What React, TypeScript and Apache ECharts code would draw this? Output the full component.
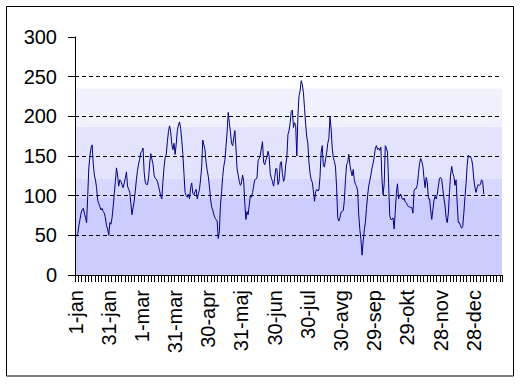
import React, { useEffect, useRef } from 'react';
import * as echarts from 'echarts';

// Daily values (day 0 = 1-jan)
const valuesJanFeb = [48, 50, 52, 62, 70, 78, 82, 84, 78, 72, 66, 100, 135, 150, 160, 164, 140, 126, 120, 110, 94, 90, 86, 82, 84, 80, 78, 72, 62, 58, 50, 66, 64, 72, 86, 102, 118, 135, 126, 112, 120, 118, 114, 110, 116, 122, 130, 112, 108, 104, 90, 76, 85, 93, 106, 120, 132, 140, 146, 154];
const valuesMarApr = [156, 160, 130, 117, 114, 114, 122, 140, 153, 146, 140, 126, 122, 121, 118, 112, 106, 99, 96, 118, 136, 148, 152, 168, 181, 188, 180, 165, 158, 166, 152, 165, 182, 189, 193, 185, 170, 152, 128, 104, 100, 98, 102, 96, 110, 116, 103, 101, 105, 108, 96, 102, 108, 120, 136, 170, 164, 158, 142, 132];
const valuesMayJun = [124, 112, 96, 86, 82, 76, 72, 70, 68, 46, 55, 88, 105, 124, 137, 145, 162, 180, 205, 192, 180, 166, 163, 173, 182, 160, 134, 126, 118, 113, 116, 126, 118, 90, 70, 80, 76, 88, 100, 98, 104, 112, 120, 121, 122, 144, 147, 151, 160, 168, 142, 139, 145, 149, 156, 150, 128, 122, 118, 112];
const valuesJulAug = [122, 134, 134, 114, 118, 140, 143, 128, 118, 122, 139, 148, 177, 182, 192, 206, 208, 186, 192, 188, 150, 200, 226, 232, 245, 240, 230, 210, 190, 174, 166, 142, 128, 120, 117, 106, 93, 105, 108, 106, 107, 124, 155, 163, 138, 136, 146, 154, 166, 172, 200, 185, 160, 148, 143, 136, 110, 72, 68, 72];
const valuesSepOct = [79, 80, 81, 94, 120, 139, 142, 152, 139, 131, 125, 133, 120, 114, 112, 106, 76, 57, 45, 25, 42, 57, 66, 84, 100, 112, 119, 126, 135, 141, 149, 160, 163, 158, 160, 157, 161, 120, 101, 115, 163, 160, 155, 115, 75, 70, 70, 72, 58, 80, 103, 115, 96, 101, 102, 97, 95, 97, 92, 91];
const valuesNovDec = [88, 86, 86, 85, 85, 78, 106, 109, 109, 114, 128, 141, 147, 143, 137, 122, 110, 123, 116, 96, 96, 82, 70, 82, 94, 99, 96, 102, 112, 122, 123, 120, 108, 97, 87, 72, 66, 78, 104, 126, 137, 128, 124, 113, 120, 90, 66, 66, 62, 59, 61, 78, 98, 115, 138, 151, 149, 149, 146, 138, 121, 111, 104, 110, 114, 113, 114, 120, 118, 102];

// Tick labels shown on the category axis, one every 30 categories
const tickLabels = ['1-jan', '31-jan', '1-mar', '31-mar', '30-apr', '31-maj', '30-jun', '30-jul', '30-avg', '29-sep', '29-okt', '28-nov', '28-dec'];
const labelEvery = 30;
const categoryCount = 386;

const yMin = 0;
const yMax = 300;
const yStep = 50;

// Background bands (value ranges) and their colours
const bandEdges = [0, 97, 121, 187, 235];
const bandColors = ['#CCCCFF', '#D7D7FF', '#E3E3FE', '#F1F1FE'];

const values = [...valuesJanFeb, ...valuesMarApr, ...valuesMayJun, ...valuesJulAug, ...valuesSepOct, ...valuesNovDec];

function buildCategories(): string[] {
  const out: string[] = [];
  for (let i = 0; i < categoryCount; i++) {
    const k = i / labelEvery;
    out.push(i % labelEvery === 0 && k < tickLabels.length ? tickLabels[k] : `d${i}`);
  }
  return out;
}

const FONT = 'Liberation Sans, Arial, sans-serif';

export default function App() {
  const ref = useRef<HTMLDivElement>(null);
  useEffect(() => {
    if (!ref.current) return;
    const chart = echarts.init(ref.current, undefined, { renderer: 'svg' });
    const categories = buildCategories();
    const bands = bandColors.map((c, i) => [
      { yAxis: bandEdges[i], itemStyle: { color: c, opacity: 1, borderWidth: 0 } },
      { yAxis: bandEdges[i + 1] },
    ]);
    chart.setOption({
      animation: false,
      backgroundColor: '#ffffff',
      grid: { left: 75, right: 26, top: 37, bottom: 109, containLabel: false },
      xAxis: {
        type: 'category',
        data: categories,
        boundaryGap: true,
        z: 2,
        axisLine: { show: true, lineStyle: { color: '#000', width: 1 } },
        axisTick: { show: true, interval: 2, length: 7, lineStyle: { color: '#000', width: 1 } },
        axisLabel: {
          interval: (index: number) => index % labelEvery === 0 && index / labelEvery < tickLabels.length,
          rotate: 90,
          margin: 15,
          color: '#000',
          fontSize: 20,
          fontFamily: FONT,
        },
        splitLine: { show: false },
      },
      yAxis: {
        type: 'value',
        min: yMin,
        max: yMax,
        interval: yStep,
        z: 2,
        axisLine: { show: true, lineStyle: { color: '#000', width: 1 } },
        axisTick: { show: true, length: 7, lineStyle: { color: '#000', width: 1 } },
        axisLabel: { margin: 18, color: '#000', fontSize: 20, fontFamily: FONT },
        splitLine: {
          show: true,
          showMaxLine: false,
          lineStyle: { color: '#000', width: 1, type: [4, 3] },
        },
      },
      series: [
        {
          type: 'line',
          data: [],
          z: 1,
          silent: true,
          markArea: {
            silent: true,
            z: 1,
            data: bands,
          },
        },
        {
          type: 'line',
          data: values,
          z: 3,
          showSymbol: false,
          symbol: 'none',
          lineStyle: { color: '#000080', width: 1 },
          itemStyle: { color: '#000080' },
        },
      ],
      graphic: [
        {
          type: 'rect',
          shape: { x: 6.5, y: 6.5, width: 507, height: 369.5 },
          style: { fill: 'none', stroke: '#000', lineWidth: 1 },
          silent: true,
        },
      ],
    });
    return () => chart.dispose();
  }, []);
  return (
    <div
      ref={ref}
      style={{ position: 'absolute', left: 0, top: 0, width: 528, height: 384, background: '#fff' }}
    />
  );
}
